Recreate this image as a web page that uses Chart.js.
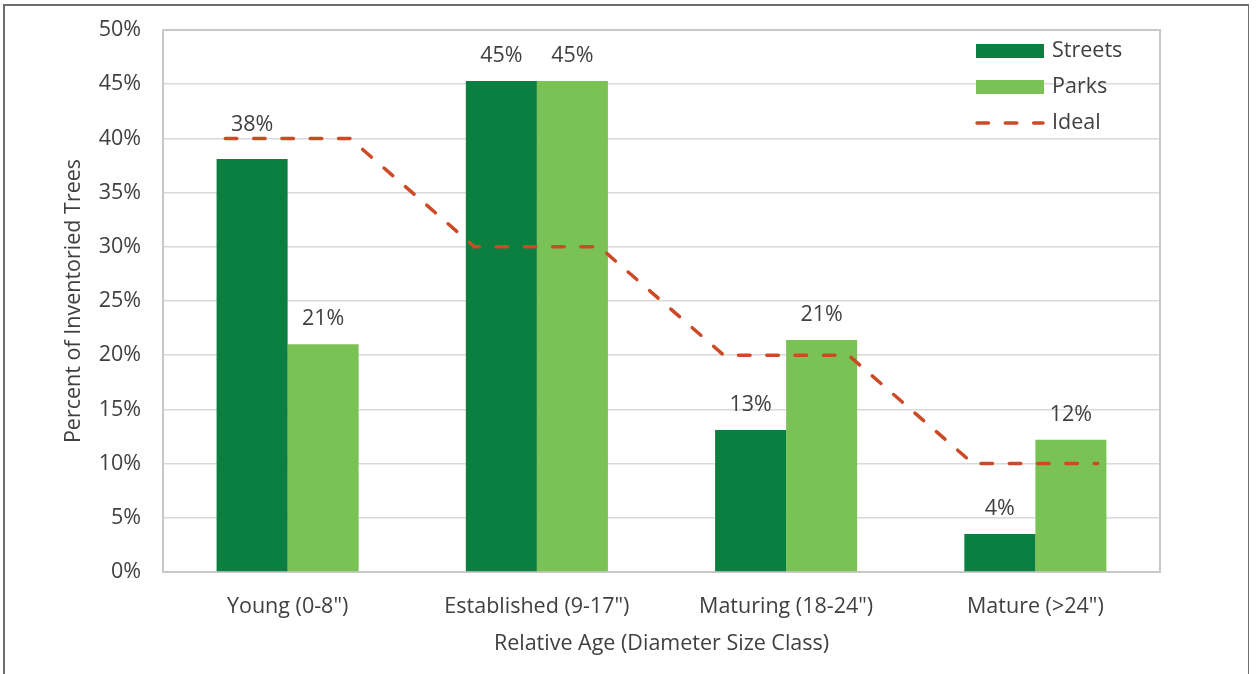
<!DOCTYPE html>
<html>
<head>
<meta charset="utf-8">
<script src="https://cdn.jsdelivr.net/npm/chart.js@4.4.1/dist/chart.umd.min.js"></script>
<style>
  html, body { margin: 0; padding: 0; background: #fff; }
  #wrap { position: relative; width: 1256px; height: 674px; overflow: hidden; }
  #frame { position: absolute; left: 3px; top: 4px; width: 1246px; height: 700px;
           border: 2px solid #6e6e6e; border-right-width: 1px; box-sizing: border-box; }
  canvas { position: absolute; left: 0; top: 0; }
</style>
</head>
<body>
<div id="wrap">
  <div id="frame"></div>
  <canvas id="chart" width="1256" height="674"></canvas>
</div>
<script>
// Share of inventoried trees by relative age class
const categories = ['Young (0-8")', 'Established (9-17")', 'Maturing (18-24")', 'Mature (>24")'];
const streets = [38.1, 45.3, 13.1, 3.5];
const parks = [21.0, 45.3, 21.4, 12.2];
// Recommended distribution, stepped across each class (x in class units)
const idealX = [-0.25, 0.25, 0.75, 1.25, 1.75, 2.25, 2.75, 3.25];
const idealY = [40, 40, 30, 30, 20, 20, 10, 10];
const yTicks = [0, 5, 10, 15, 20, 25, 30, 35, 40, 45, 50];

const FONT = '"Open Sans", "Noto Sans", sans-serif';
const FS = 21.5;
const TEXT = '#404040';
const STREETS_C = '#0b7f40';
const PARKS_C = '#7ac255';
const IDEAL_C = '#cc4a25';

// Percentage labels above the bars
const barLabels = {
  id: 'barLabels',
  afterDatasetsDraw(chart) {
    const ctx = chart.ctx;
    ctx.save();
    ctx.font = FS + 'px ' + FONT;
    ctx.fillStyle = TEXT;
    ctx.textAlign = 'center';
    ctx.textBaseline = 'middle';
    [0, 1].forEach(di => {
      const meta = chart.getDatasetMeta(di);
      const vals = chart.data.datasets[di].data;
      meta.data.forEach((bar, i) => {
        // the first label sits clear of the ideal line
        const lift = (di === 0 && i === 0) ? 34 : 25;
        ctx.fillText(Math.round(vals[i].y) + '%', bar.x, bar.y - lift);
      });
    });
    ctx.restore();
  }
};

// Plot frame on top and right, legend inside the plot
const frameAndLegend = {
  id: 'frameAndLegend',
  afterDraw(chart) {
    const ctx = chart.ctx;
    const a = chart.chartArea;
    ctx.save();
    ctx.strokeStyle = '#c8c8c8';
    ctx.lineWidth = 2;
    ctx.beginPath();
    ctx.moveTo(a.left, a.top);
    ctx.lineTo(a.right, a.top);
    ctx.lineTo(a.right, a.bottom);
    ctx.stroke();

    const ds = chart.data.datasets;
    const x0 = 976, boxW = 68, textX = 1052;
    const rows = [51, 87, 123];
    ctx.font = FS + 'px ' + FONT;
    ctx.textAlign = 'left';
    ctx.textBaseline = 'middle';
    ds.forEach((d, i) => {
      const y = rows[i];
      if (d.type === 'line') {
        ctx.strokeStyle = d.borderColor;
        ctx.lineWidth = d.borderWidth;
        ctx.lineCap = 'round';
        ctx.setLineDash(d.borderDash);
        ctx.beginPath();
        ctx.moveTo(x0 + 1, y);
        ctx.lineTo(x0 + boxW - 1, y);
        ctx.stroke();
        ctx.setLineDash([]);
      } else {
        ctx.fillStyle = d.backgroundColor;
        ctx.fillRect(x0, y - 7, boxW, 14);
      }
      ctx.fillStyle = TEXT;
      ctx.fillText(d.label, textX, y);
    });
    ctx.restore();
  }
};

const asPoints = vals => vals.map((v, i) => ({ x: i, y: v }));

new Chart(document.getElementById('chart'), {
  type: 'bar',
  data: {
    datasets: [
      { type: 'bar', label: 'Streets', data: asPoints(streets), backgroundColor: STREETS_C,
        categoryPercentage: 0.57, barPercentage: 1.0, order: 2 },
      { type: 'bar', label: 'Parks', data: asPoints(parks), backgroundColor: PARKS_C,
        categoryPercentage: 0.57, barPercentage: 1.0, order: 2 },
      { type: 'line', label: 'Ideal',
        data: idealX.map((x, i) => ({ x: x, y: idealY[i] })),
        borderColor: IDEAL_C, borderWidth: 3.5, borderDash: [11.5, 16.8],
        borderCapStyle: 'round', pointRadius: 0, fill: false, tension: 0, order: 1 }
    ]
  },
  options: {
    responsive: false,
    animation: false,
    layout: { padding: { left: 0, top: 30, right: 96, bottom: 0 } },
    plugins: { legend: { display: false }, tooltip: { enabled: false } },
    scales: {
      x: {
        type: 'linear', min: -0.5, max: 3.5, offset: false,
        afterBuildTicks(scale) { scale.ticks = categories.map((c, i) => ({ value: i })); },
        grid: { display: false, drawTicks: false },
        border: { display: true, color: '#c8c8c8', width: 2 },
        ticks: { color: TEXT, font: { family: FONT, size: FS }, padding: 22, maxRotation: 0,
                 autoSkip: false, callback: v => categories[v] },
        title: { display: true, text: 'Relative Age (Diameter Size Class)', color: TEXT,
                 font: { family: FONT, size: FS }, padding: { top: 0, bottom: 17 } },
        afterFit(scale) {
          scale.height = 102;
          scale.paddingLeft = 0; scale.paddingRight = 0;
        }
      },
      y: {
        min: 0, max: 50,
        afterBuildTicks(scale) { scale.ticks = yTicks.map(v => ({ value: v })); },
        grid: { color: '#d9d9d9', lineWidth: 1.5, drawTicks: false },
        border: { display: true, color: '#c8c8c8', width: 2 },
        ticks: { color: TEXT, font: { family: FONT, size: FS }, padding: 22,
                 callback: v => v + '%' },
        title: { display: true, text: 'Percent of Inventoried Trees', color: TEXT,
                 font: { family: FONT, size: FS }, padding: { top: 61, bottom: 0 } },
        afterFit(scale) {
          scale.width = 163;
          scale.paddingTop = 0; scale.paddingBottom = 0;
        }
      }
    }
  },
  plugins: [barLabels, frameAndLegend]
});
</script>
</body>
</html>
